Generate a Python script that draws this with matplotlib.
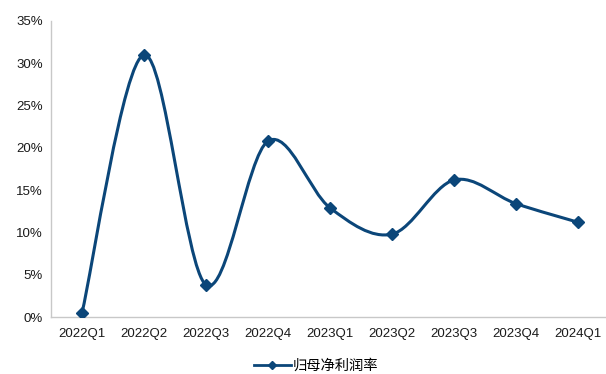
import numpy as np
import matplotlib
matplotlib.use("Agg")
import matplotlib.pyplot as plt
from matplotlib.path import Path
from matplotlib.patches import PathPatch
from matplotlib.lines import Line2D
from matplotlib.ticker import FuncFormatter, MultipleLocator

plt.rcParams['font.family'] = ['Liberation Sans', 'Noto Sans CJK SC', 'DejaVu Sans']

quarters = ["2022Q1", "2022Q2", "2022Q3", "2022Q4", "2023Q1",
            "2023Q2", "2023Q3", "2023Q4", "2024Q1"]
net_margin = [0.5, 31.0, 3.8, 20.8, 12.9, 9.8, 16.2, 13.4, 11.2]
series_name = "归母净利润率"

color = "#0B4679"

fig = plt.figure(figsize=(6.06, 3.74), dpi=100)
ax = fig.add_axes([51 / 606, 1 - 317 / 374, 555 / 606, (317 - 21) / 374])

x = np.arange(len(quarters), dtype=float)
y = np.array(net_margin, dtype=float)

# Smoothed line: Catmull-Rom segments expressed as cubic Bezier curves
verts = [(x[0], y[0])]
codes = [Path.MOVETO]
n = len(x)
for i in range(n - 1):
    p0 = np.array([x[max(i - 1, 0)], y[max(i - 1, 0)]])
    p1 = np.array([x[i], y[i]])
    p2 = np.array([x[i + 1], y[i + 1]])
    p3 = np.array([x[min(i + 2, n - 1)], y[min(i + 2, n - 1)]])
    c1 = p1 + (p2 - p0) / 6.0
    c2 = p2 - (p3 - p1) / 6.0
    verts += [tuple(c1), tuple(c2), tuple(p2)]
    codes += [Path.CURVE4, Path.CURVE4, Path.CURVE4]
ax.add_patch(PathPatch(Path(verts, codes), facecolor="none", edgecolor=color,
                       lw=2.2, capstyle="round", joinstyle="round", zorder=2))
ax.plot(x, y, linestyle="none", marker="D", markersize=6.5, color=color, zorder=3)

ax.set_xlim(-0.5, 8.45)
ax.set_ylim(0, 35)
ax.yaxis.set_major_locator(MultipleLocator(5))
ax.yaxis.set_major_formatter(FuncFormatter(lambda v, p: f"{v:.0f}%"))
ax.set_xticks(x)
ax.set_xticklabels(quarters)
ax.tick_params(axis="both", length=0, labelsize=9.5, colors="#1a1a1a")
ax.tick_params(axis="x", pad=8)
ax.tick_params(axis="y", pad=6)

for side in ("top", "right"):
    ax.spines[side].set_visible(False)
for side in ("left", "bottom"):
    ax.spines[side].set_color("#c8c8c8")
    ax.spines[side].set_linewidth(1.0)

handle = Line2D([], [], color=color, lw=2.0, marker="D", markersize=4.5)
fig.legend([handle], [series_name], loc="center", bbox_to_anchor=(316 / 606, 1 - 366 / 374),
           frameon=False, handlelength=2.6, handletextpad=0.15,
           prop={'family': ['Noto Sans CJK SC', 'DejaVu Sans'], 'size': 10.3})

fig.savefig("out.png", dpi=100)
